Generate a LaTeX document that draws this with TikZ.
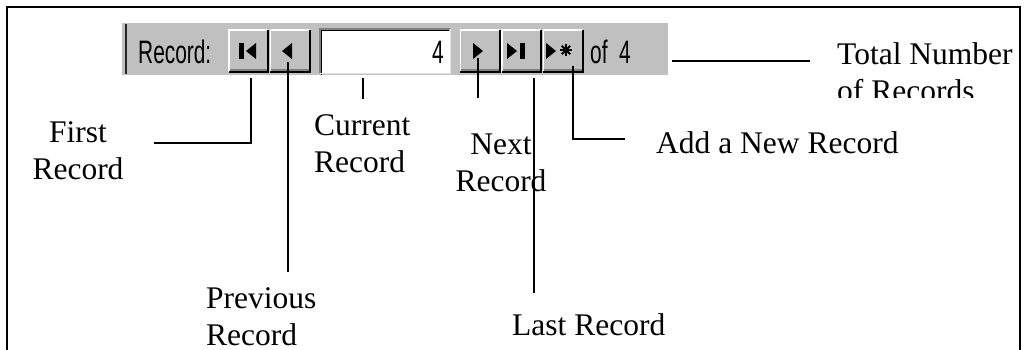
\documentclass[tikz,border=0pt]{standalone}
\usepackage{fontspec}
\setmainfont{Liberation Serif}
\newfontfamily\uisans{Liberation Sans}
\usepackage{graphicx}
\definecolor{barbg}{RGB}{192,192,192}
\definecolor{darkedge}{RGB}{128,128,128}
\definecolor{lightedge}{RGB}{225,225,225}
\tikzset{
  lbl/.style={font=\fontsize{31.5}{37}\selectfont, inner sep=0pt},
  ui/.style={font=\uisans\fontsize{29}{29}\selectfont, inner sep=0pt},
  btn/.style={fill=barbg, minimum width=39pt, minimum height=42pt, inner sep=0pt},
  conn/.style={line width=1.6pt, black},
  glyph/.style={fill=black, draw=none}
}
\newcommand{\uitext}[1]{\scalebox{0.72}[1.12]{#1}}
\begin{document}
\begin{tikzpicture}[x=1pt,y=-1pt]
\useasboundingbox (0,0) rectangle (1025,349);
\clip (0,0) rectangle (1025,349);
% outer frame (open at the bottom)
\draw[line width=2.2pt] (7,360) -- (7,7) -- (1020,7) -- (1020,360);

% toolbar
\node (bar) [fill=barbg, minimum width=546pt, minimum height=52pt, inner sep=0pt, anchor=north west] at (122,23) {};
\draw[line width=2.2pt, black!85] (126,24) -- (126,74);
\draw[line width=1pt, white] (122,75) -- (668,75);

\node (rec) [ui, anchor=west] at (138,52) {\uitext{Record:}};

% buttons
\node (b1) [btn] at (248.5,51) {};
\node (b2) [btn] at (290,51) {};
\node (b3) [btn] at (480,51) {};
\node (b4) [btn] at (521.5,51) {};
\node (b5) [btn] at (563,51) {};
\foreach \b in {b1,b2,b3,b4,b5} {
  \draw[white, line width=1.5pt] (\b.south west) -- (\b.north west) -- (\b.north east);
  \draw[darkedge, line width=3pt] ([xshift=1pt,yshift=2pt]\b.south west) -- ([xshift=-1pt,yshift=2pt]\b.south east);
  \draw[black, line width=2pt] (\b.south west) -- (\b.south east) -- (\b.north east);
}

% current record field
\node (field) [fill=white, minimum width=130pt, minimum height=44pt, inner sep=0pt] at (385,51) {};
\draw[darkedge, line width=1.5pt] (field.south west) -- (field.north west) -- (field.north east);
\draw[black, line width=1.5pt] ([xshift=1.5pt,yshift=-1.5pt]field.south west) -- ([xshift=1.5pt,yshift=-1.5pt]field.north west) -- ([xshift=-1.5pt,yshift=-1.5pt]field.north east);
\draw[lightedge, line width=1.2pt] (field.south west) -- (field.south east) -- (field.north east);
\node (num) [ui, anchor=east] at (444,52) {\uitext{4}};

\node (of) [ui, anchor=west] at (590,52) {\uitext{of\ \ 4}};

% glyphs
\fill[glyph] (239,43) rectangle (243.5,59);
\fill[glyph] (246,51) -- (256,43) -- (256,59) -- cycle;
\fill[glyph] (282,51) -- (292,43) -- (292,59) -- cycle;
\fill[glyph] (483,51) -- (473,43) -- (473,59) -- cycle;
\fill[glyph] (517,51) -- (507,43) -- (507,59) -- cycle;
\fill[glyph] (520,43) rectangle (524.5,59);
\fill[glyph] (556,51) -- (546,43) -- (546,59) -- cycle;
\foreach \a in {0,45,90,135} {
  \draw[line width=1.8pt] (566,50) ++(\a:6) -- ++(\a+180:12);
}

% labels
\node (lfirst) [lbl, align=center, anchor=south] at (78,180) {First\\Record};
\node (lprev) [lbl, align=left, anchor=south west] at (206,346) {Previous\\Record};
\node (lcur) [lbl, align=left, anchor=south west] at (314,173) {Current\\Record};
\node (lnext) [lbl, align=center, anchor=south] at (501,192) {Next\\Record};
\node (llast) [lbl, anchor=base west] at (512,335) {Last Record};
\node (lnew) [lbl, anchor=base west] at (656,153) {Add a New Record};
\begin{scope}
  \clip (830,28) rectangle (1018,97);
  \node (ltotal) [lbl, align=left, anchor=south west] at (837,102) {Total Number\\of Records};
\end{scope}

% connector end points
\coordinate (pfirst) at (154,143);
\coordinate (pprev) at (288,272);
\coordinate (pcur) at (363,99);
\coordinate (pnext) at (478,98);
\coordinate (plast) at (534,293);
\coordinate (pnew) at (625,139);
\coordinate (ptotal) at (810,61);
\coordinate (sfirst) at (251,78);
\coordinate (sprev) at (288,62);
\coordinate (scur) at (363,78);
\coordinate (snext) at (478,58);
\coordinate (slast) at (534,78);
\coordinate (snew) at (573,66);
\coordinate (stotal) at (672,61);

\draw[conn] (sfirst) |- (pfirst);
\draw[conn] (sprev) -- (pprev);
\draw[conn] (scur) -- (pcur);
\draw[conn] (snext) -- (pnext);
\draw[conn] (slast) -- (plast);
\draw[conn] (snew) |- (pnew);
\draw[conn] (stotal) -- (ptotal);
\end{tikzpicture}
\end{document}
